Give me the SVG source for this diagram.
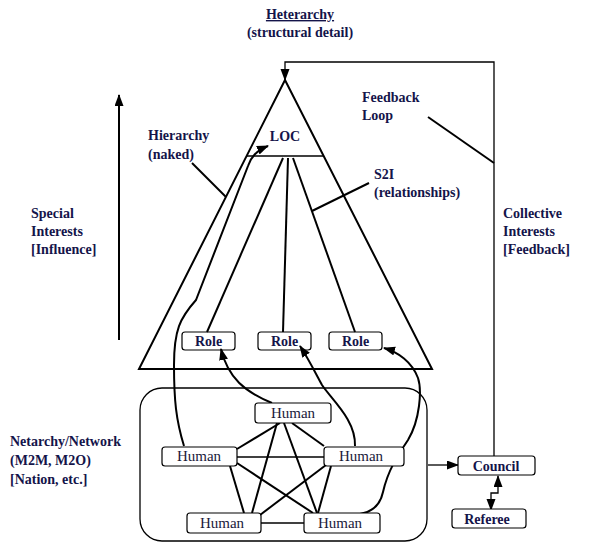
<svg xmlns="http://www.w3.org/2000/svg" width="595" height="543" viewBox="0 0 595 543">
<style>
.t{font-family:"Liberation Serif","Times New Roman",Times,serif;font-size:14px;font-weight:bold;fill:#14144a}
.h{font-family:"Liberation Serif","Times New Roman",Times,serif;font-size:15px;fill:#1a1a3a}
.box{fill:#fff;stroke:#000;stroke-width:1.2}
.ln{fill:none;stroke:#000;stroke-width:2}
.thin{fill:none;stroke:#000;stroke-width:1.3}
</style>
<defs>
<marker id="ah" markerUnits="userSpaceOnUse" markerWidth="12" markerHeight="10" refX="11" refY="4.5" orient="auto-start-reverse">
<path d="M0,0 L12,4.5 L0,9 z" fill="#000"/>
</marker>
</defs>

<g id="title">
<text class="t" x="300" y="19" text-anchor="middle" text-decoration="underline">Heterarchy</text>
<text class="t" x="300" y="37" text-anchor="middle">(structural detail)</text>
</g>

<g id="hierarchy">
<path class="ln" d="M285,80 L139,369 L432,369 Z"/>
<line class="thin" x1="247" y1="156" x2="323" y2="156"/>
<text class="t" x="285" y="141" text-anchor="middle">LOC</text>
</g>

<g id="labels">
<text class="t" x="148" y="140">Hierarchy</text>
<text class="t" x="148" y="159">(naked)</text>
<text class="t" x="374" y="179">S2I</text>
<text class="t" x="374" y="197">(relationships)</text>
<text class="t" x="362" y="102">Feedback</text>
<text class="t" x="362" y="120">Loop</text>
<text class="t" x="31" y="218">Special</text>
<text class="t" x="31" y="236">Interests</text>
<text class="t" x="31" y="254">[Influence]</text>
<text class="t" x="503" y="218">Collective</text>
<text class="t" x="503" y="236">Interests</text>
<text class="t" x="503" y="254">[Feedback]</text>
<text class="t" x="10" y="446">Netarchy/Network</text>
<text class="t" x="10" y="465">(M2M, M2O)</text>
<text class="t" x="10" y="484">[Nation, etc.]</text>
</g>

<g id="role1"><rect class="box" x="182" y="332" width="53" height="18" rx="3"/><text class="t" x="208.5" y="346" text-anchor="middle">Role</text></g>
<g id="role2"><rect class="box" x="258" y="332" width="53" height="18" rx="3"/><text class="t" x="284.5" y="346" text-anchor="middle">Role</text></g>
<g id="role3"><rect class="box" x="329" y="332" width="53" height="18" rx="3"/><text class="t" x="355.5" y="346" text-anchor="middle">Role</text></g>

<g id="network">
<rect x="140" y="388" width="287" height="153" rx="22" fill="none" stroke="#000" stroke-width="1.3"/>
</g>

<g id="connectors">
<line class="ln" x1="119" y1="340" x2="119" y2="95" marker-end="url(#ah)"/>
<path class="thin" d="M494,456 V62 H285 V80" marker-end="url(#ah)"/>
<line class="ln" x1="192" y1="163" x2="226" y2="197"/>
<line class="ln" x1="369" y1="183" x2="312" y2="211"/>
<line class="ln" x1="428" y1="117" x2="494" y2="163"/>
<line class="ln" x1="283" y1="158" x2="207" y2="332"/>
<line class="ln" x1="288" y1="158" x2="283" y2="332"/>
<line class="ln" x1="293" y1="158" x2="355" y2="332"/>
<path class="ln" d="M184,446 C176,420 174,400 174,365 C174,330 180,318 196,300 L248,166 C251,157 256,151 268,146" marker-end="url(#ah)"/>
<path class="ln" d="M272,403 C245,392 228,378 221,349" marker-end="url(#ah)"/>
<path class="ln" d="M355,446 C356,420 332,400 322,385 C315,372 308,358 300,346" marker-end="url(#ah)"/>
<path class="ln" d="M360,514 C372,512 380,506 383,492 C388,470 398,455 408,440 C420,420 422,390 418,378 C412,362 398,352 384,348" marker-end="url(#ah)"/>
<g class="ln">
<line x1="280" y1="423" x2="237" y2="449"/>
<line x1="292" y1="423" x2="324" y2="446"/>
<line x1="277" y1="423" x2="252" y2="513"/>
<line x1="284" y1="423" x2="317" y2="513"/>
<line x1="230" y1="466" x2="244" y2="513"/>
<line x1="237" y1="463" x2="313" y2="513"/>
<line x1="326" y1="465" x2="260" y2="515"/>
<line x1="331" y1="466" x2="318" y2="513"/>
</g>
<line class="thin" x1="237" y1="457" x2="324" y2="457"/>
<line class="thin" x1="261" y1="523" x2="304" y2="523"/>
<line class="thin" x1="428" y1="465" x2="458" y2="465" marker-end="url(#ah)"/>
<path class="thin" d="M498,476 V493 H491 V510" marker-start="url(#ah)" marker-end="url(#ah)"/>
</g>

<g id="human-top"><rect class="box" x="255" y="403" width="76" height="20" rx="3"/><text class="h" x="293" y="418" text-anchor="middle">Human</text></g>
<g id="human-left"><rect class="box" x="162" y="447" width="75" height="19" rx="3"/><text class="h" x="199" y="461" text-anchor="middle">Human</text></g>
<g id="human-right"><rect class="box" x="324" y="447" width="80" height="19" rx="3"/><text class="h" x="361" y="461" text-anchor="middle">Human</text></g>
<g id="human-bl"><rect class="box" x="187" y="513" width="74" height="20" rx="3"/><text class="h" x="222" y="528" text-anchor="middle">Human</text></g>
<g id="human-br"><rect class="box" x="304" y="513" width="76" height="20" rx="3"/><text class="h" x="340" y="528" text-anchor="middle">Human</text></g>

<g id="council"><rect class="box" x="458" y="456" width="77" height="19" rx="3"/><text class="t" x="496" y="471" text-anchor="middle">Council</text></g>
<g id="referee"><rect class="box" x="452" y="509" width="74" height="19" rx="3"/><text class="t" x="487" y="524" text-anchor="middle">Referee</text></g>
</svg>
